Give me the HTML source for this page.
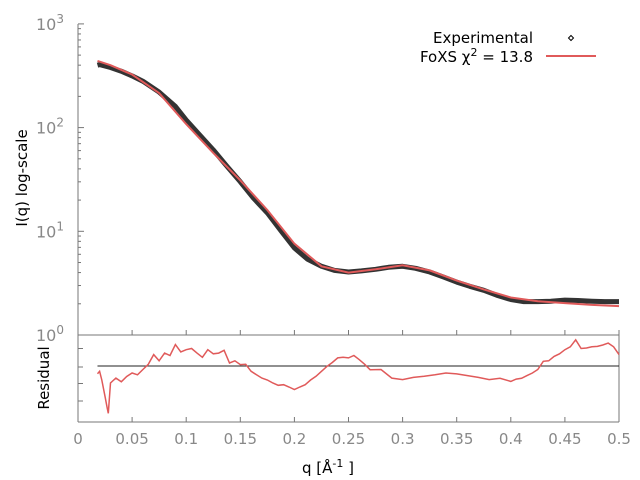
<!DOCTYPE html>
<html><head><meta charset="utf-8"><style>
body{margin:0;background:#fff}
svg{display:block;font-family:"DejaVu Sans","Liberation Sans",sans-serif}
</style></head><body>
<svg id="chart" width="640" height="480">
<g id="axes"></g>
<g id="series"></g>
<g id="legend">
<text x="533" y="43" text-anchor="end" font-size="15" fill="#000">Experimental</text>
<path d="M571 35.5 L573.5 38 L571 40.5 L568.5 38 Z" fill="none" stroke="#000" stroke-width="1"/>
<text x="533" y="62" text-anchor="end" font-size="15" fill="#000">FoXS χ<tspan dy="-6" font-size="11">2</tspan><tspan dy="6"> = 13.8</tspan></text>
<line x1="546" y1="56" x2="596" y2="56" stroke="#e05a5a" stroke-width="2"/>
</g>
<text x="0" y="0" transform="translate(27,178) rotate(-90)" text-anchor="middle" font-size="15" fill="#000">I(q) log-scale</text>
<text x="0" y="0" transform="translate(49,378) rotate(-90)" text-anchor="middle" font-size="15" fill="#000">Residual</text>
<text x="328" y="473" text-anchor="middle" font-size="15" fill="#000">q [Å<tspan dy="-6" font-size="11">-1</tspan><tspan dy="6"> ]</tspan></text>
</svg>
<script>
const qExp=[0.018,0.02,0.03,0.04,0.05,0.06,0.075,0.09,0.1,0.112,0.125,0.138,0.15,0.162,0.175,0.188,0.2,0.212,0.225,0.237,0.25,0.262,0.275,0.287,0.3,0.312,0.325,0.337,0.35,0.362,0.375,0.387,0.4,0.412,0.425,0.437,0.45,0.462,0.475,0.487,0.5];
const iExp=[400,405,380,350,315,280,220,160,118,86,61,42,30,21,15,10,6.9,5.4,4.6,4.2,4.05,4.15,4.3,4.5,4.6,4.4,4.05,3.65,3.24,2.95,2.7,2.42,2.2,2.1,2.1,2.12,2.17,2.15,2.12,2.1,2.1];
const qFit=[0.018,0.03,0.05,0.075,0.1,0.125,0.15,0.175,0.2,0.225,0.25,0.275,0.3,0.325,0.35,0.375,0.4,0.425,0.45,0.475,0.5];
const iFit=[440,400,325,215,108,57,31,16,7.6,4.6,4.0,4.3,4.7,4.2,3.35,2.75,2.3,2.12,2.03,1.95,1.9];
const qRes=[0.018,0.02,0.022,0.025,0.027,0.028,0.03,0.033,0.035,0.04,0.045,0.05,0.055,0.06,0.065,0.07,0.075,0.08,0.085,0.09,0.095,0.1,0.105,0.11,0.115,0.12,0.125,0.13,0.135,0.14,0.145,0.15,0.155,0.16,0.165,0.17,0.175,0.18,0.185,0.19,0.195,0.2,0.205,0.21,0.215,0.22,0.225,0.23,0.235,0.24,0.245,0.25,0.255,0.26,0.265,0.27,0.28,0.29,0.3,0.31,0.32,0.33,0.34,0.35,0.36,0.37,0.38,0.39,0.4,0.405,0.41,0.415,0.42,0.425,0.43,0.435,0.44,0.445,0.45,0.455,0.46,0.465,0.47,0.475,0.48,0.485,0.49,0.495,0.5];
const rRes=[-0.44,-0.3,-0.8,-1.73,-2.4,-2.7,-0.97,-0.8,-0.69,-0.9,-0.6,-0.4,-0.5,-0.2,0.1,0.65,0.3,0.74,0.6,1.22,0.8,0.93,1.0,0.74,0.5,0.93,0.7,0.74,0.9,0.17,0.3,0.08,0.1,-0.3,-0.5,-0.69,-0.8,-0.97,-1.1,-1.07,-1.2,-1.35,-1.2,-1.07,-0.8,-0.59,-0.3,-0.02,0.2,0.46,0.5,0.46,0.6,0.36,0.1,-0.21,-0.2,-0.69,-0.78,-0.65,-0.59,-0.5,-0.4,-0.45,-0.55,-0.65,-0.78,-0.7,-0.88,-0.75,-0.7,-0.55,-0.4,-0.2,0.27,0.3,0.55,0.7,0.93,1.1,1.5,1.0,1.03,1.1,1.12,1.2,1.31,1.1,0.65];
const xTicks=[0,0.05,0.1,0.15,0.2,0.25,0.3,0.35,0.4,0.45,0.5];
const xTickLabels=["0","0.05","0.1","0.15","0.2","0.25","0.3","0.35","0.4","0.45","0.5"];
const yDecades=[0,1,2,3];
const resTicks=[1,0,-1,-2];

const NS="http://www.w3.org/2000/svg";
const X0=78,X1=619,Y0=335,DEC=103.7,RZ=366,RS=17.5;
const sx=q=>X0+(q-0)/(0.5-0)*(X1-X0);
const sy=v=>Y0-DEC*Math.log10(v);
const sr=r=>RZ-r*RS;
function mk(tag,attrs,parent){const e=document.createElementNS(NS,tag);for(const k in attrs)e.setAttribute(k,attrs[k]);parent.appendChild(e);return e;}
const axes=document.getElementById('axes'),series=document.getElementById('series');
const G="#777";
let l=mk('line',{x1:X0,y1:24,x2:X0,y2:422,stroke:G},axes);


l=mk('line',{x1:X0,y1:Y0,x2:X1,y2:Y0,stroke:G},axes);


l=mk('line',{x1:X0,y1:422,x2:X1,y2:422,stroke:G},axes);


l=mk('line',{x1:X1,y1:Y0,x2:X1,y2:422,stroke:G},axes);


xTicks.forEach((q,i)=>{
  const x=sx(q);
  const t=mk('line',{x1:x,y1:Y0,x2:x,y2:Y0-5,stroke:G},axes);
  
  
  const t2=mk('line',{x1:x,y1:422,x2:x,y2:417,stroke:G},axes);
  
  
  const tx=mk('text',{x:x,y:444,'text-anchor':'middle','font-size':15,fill:'#888'},axes);
  tx.textContent=xTickLabels[i];
  
  
});
yDecades.forEach(d=>{
  const y=sy(Math.pow(10,d));
  const t=mk('line',{x1:X0,y1:y,x2:X0+6,y2:y,stroke:G},axes);
  
  
  const tx=mk('text',{x:X0-14,y:y+6,'text-anchor':'end','font-size':16,fill:'#888'},axes);
  tx.innerHTML='10<tspan dy="-7" font-size="12">'+d+'</tspan>';
  
  
  if(d<3){for(let m=2;m<10;m++){const ym=sy(m*Math.pow(10,d));
    const mt=mk('line',{x1:X0,y1:ym,x2:X0+3,y2:ym,stroke:G},axes);
    
    }}
});
resTicks.forEach(r=>{
  const t=mk('line',{x1:X0,y1:sr(r)+ (r===0?1:0),x2:X0+5,y2:sr(r)+(r===0?1:0),stroke:G},axes);
  
  
});
l=mk('line',{x1:sx(0.018),y1:RZ,x2:X1,y2:RZ,stroke:'#222'},series);


const pts=(qs,vs,f)=>qs.map((q,i)=>sx(q).toFixed(1)+','+f(vs[i]).toFixed(1)).join(' ');
let p=mk('polyline',{points:pts(qExp,iExp,sy),fill:'none',stroke:'#333','stroke-width':5,'stroke-linejoin':'round'},series);


p=mk('polyline',{points:pts(qFit,iFit,sy),fill:'none',stroke:'#e05a5a','stroke-width':2},series);


p=mk('polyline',{points:pts(qRes,rRes,sr),fill:'none',stroke:'#e05a5a','stroke-width':1.5},series);


</script>
</body></html>
